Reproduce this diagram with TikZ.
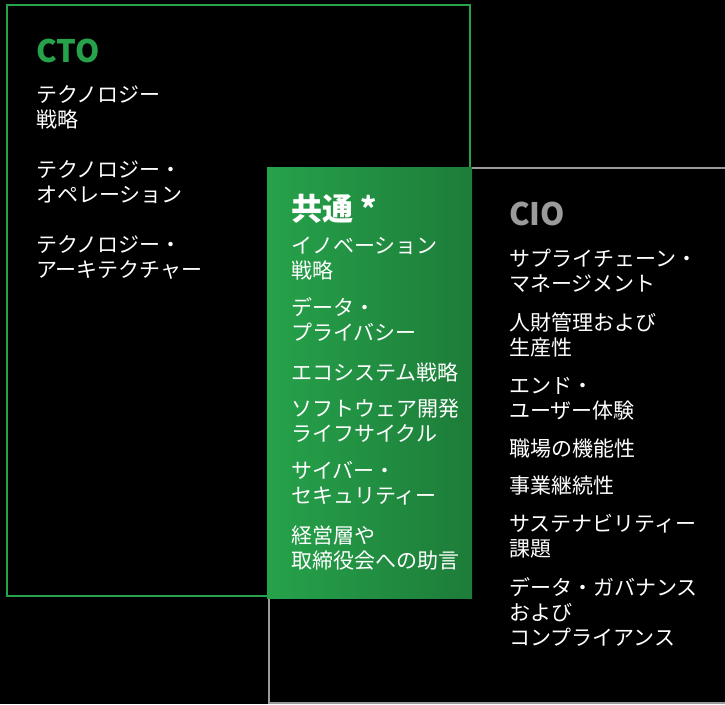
\documentclass[tikz,border=0pt]{standalone}
\usepackage{fontspec}
\setmainfont{Noto Sans CJK JP}
\begin{document}
\begin{tikzpicture}[x=1pt,y=-1pt,
  item/.style={anchor=base west,inner sep=0pt,align=left,text=white,
    font=\fontsize{21}{25}\selectfont},
  heading/.style={anchor=base west,inner sep=0pt,font=\fontsize{31}{34}\selectfont\bfseries}]
\definecolor{ctogreen}{RGB}{38,162,74}
\definecolor{fillL}{RGB}{38,162,74}
\definecolor{fillR}{RGB}{29,124,57}
\definecolor{ciogrey}{RGB}{155,155,155}
\fill[black] (0,0) rectangle (725,704);
\useasboundingbox (0,0) rectangle (725,704);
% boxes
\draw[ctogreen,line width=2pt] (7,5) rectangle (470,596);
\draw[ciogrey,line width=2pt] (269,168) rectangle (728,703);
\shade[left color=fillL,right color=fillR] (267,167) rectangle (472,598);
% CTO (base anchor = baseline of last line)
\node[heading,text=ctogreen] (cto) at (36,62) {CTO};
\node[item] (cto1) at (36,127) {テクノロジー\\戦略};
\node[item] (cto2) at (36,202) {テクノロジー・\\オペレーション};
\node[item] (cto3) at (36,277) {テクノロジー・\\アーキテクチャー};
% Common
\node[heading,text=white] (com) at (291,220) {共通 *};
\node[item] (com1) at (291,278) {イノベーション\\戦略};
\node[item] (com2) at (291,340) {データ・\\プライバシー};
\node[item] (com3) at (291,380) {エコシステム戦略};
\node[item] (com4) at (291,441) {ソフトウェア開発\\ライフサイクル};
\node[item] (com5) at (291,503) {サイバー・\\セキュリティー};
\node[item] (com6) at (291,568) {経営層や\\取締役会への助言};
% CIO
\node[heading,text=ciogrey] (cio) at (509,225) {CIO};
\node[item] (cio1) at (509,291) {サプライチェーン・\\マネージメント};
\node[item] (cio2) at (509,355) {人財管理および\\生産性};
\node[item] (cio3) at (509,418) {エンド・\\ユーザー体験};
\node[item] (cio4) at (509,456) {職場の機能性};
\node[item] (cio5) at (509,493) {事業継続性};
\node[item] (cio6) at (509,556) {サステナビリティー\\課題};
\node[item] (cio7) at (509,645) {データ・ガバナンス\\および\\コンプライアンス};
\end{tikzpicture}
\end{document}
